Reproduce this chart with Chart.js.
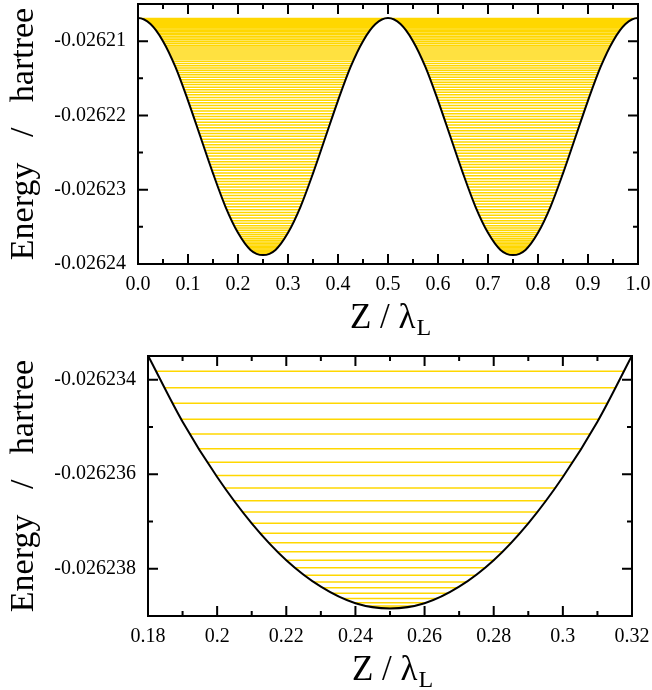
<!DOCTYPE html>
<html>
<head>
<meta charset="utf-8">
<script src="https://cdn.jsdelivr.net/npm/chart.js@4.4.1/dist/chart.umd.min.js"></script>
<style>
  html, body { margin: 0; padding: 0; background: #fff; }
  #wrap { width: 652px; height: 690px; }
  canvas { display: block; }
</style>
</head>
<body>
<div id="wrap">
  <canvas id="full" width="652" height="345"></canvas>
  <canvas id="zoom" width="652" height="345"></canvas>
</div>
<script>
// ---- Potential over one full lattice period (Z / lambda_L) ----
const fullZ = [-0.025, 0, 0.025, 0.05, 0.075, 0.1, 0.125, 0.15, 0.175, 0.2, 0.225, 0.25,
  0.275, 0.3, 0.325, 0.35, 0.375, 0.4, 0.425, 0.45, 0.475, 0.5,
  0.525, 0.55, 0.575, 0.6, 0.625, 0.65, 0.675, 0.7, 0.725, 0.75,
  0.775, 0.8, 0.825, 0.85, 0.875, 0.9, 0.925, 0.95, 0.975, 1.0, 1.025];
const fullE = [-0.0262077, -0.0262069, -0.0262077, -0.0262100, -0.0262135, -0.0262180, -0.0262229, -0.0262278, -0.0262323, -0.0262358, -0.0262381, -0.0262388,
  -0.0262381, -0.0262358, -0.0262323, -0.0262278, -0.0262229, -0.0262180, -0.0262135, -0.0262100, -0.0262077, -0.0262069,
  -0.0262077, -0.0262100, -0.0262135, -0.0262180, -0.0262229, -0.0262278, -0.0262323, -0.0262358, -0.0262381, -0.0262388,
  -0.0262381, -0.0262358, -0.0262323, -0.0262278, -0.0262229, -0.0262180, -0.0262135, -0.0262100, -0.0262077, -0.0262069, -0.0262077];

// ---- Potential near the bottom of one well ----
const zoomZ = [0.18, 0.19, 0.20, 0.21, 0.22, 0.23, 0.24, 0.25, 0.26, 0.27, 0.28, 0.29, 0.30, 0.31, 0.32];
const zoomE = [-0.02623349, -0.02623489, -0.02623606, -0.02623704, -0.02623782, -0.02623838, -0.02623873, -0.02623884,
  -0.02623873, -0.02623838, -0.02623782, -0.02623704, -0.02623606, -0.02623489, -0.02623349];

// ---- Energy levels (hartree) ----
// levels above the window of the lower panel
const upperLevels = [
  -0.02620694, -0.02620699, -0.02620705, -0.02620712, -0.02620720, -0.02620729, -0.02620739, -0.02620750,
  -0.02620762, -0.02620775, -0.02620789, -0.02620804, -0.02620820, -0.02620837, -0.02620855, -0.02620874,
  -0.02620894, -0.02620915, -0.02620937, -0.02620959, -0.02620982, -0.02621006, -0.02621030, -0.02621055,
  -0.02621080, -0.02621106, -0.02621132, -0.02621159, -0.02621186, -0.02621214, -0.02621242, -0.02621271,
  -0.02621300, -0.02621330, -0.02621360, -0.02621391, -0.02621422, -0.02621454, -0.02621486, -0.02621519,
  -0.02621552, -0.02621585, -0.02621619, -0.02621653, -0.02621688, -0.02621723, -0.02621758, -0.02621794,
  -0.02621830, -0.02621866, -0.02621903, -0.02621940, -0.02621977, -0.02622015, -0.02622053, -0.02622091,
  -0.02622129, -0.02622167, -0.02622205, -0.02622243, -0.02622281, -0.02622319, -0.02622357, -0.02622395,
  -0.02622433, -0.02622471, -0.02622509, -0.02622547, -0.02622585, -0.02622623, -0.02622661, -0.02622699,
  -0.02622737, -0.02622775, -0.02622813, -0.02622851, -0.02622889, -0.02622927, -0.02622965, -0.02623003,
  -0.02623041, -0.02623079, -0.02623117, -0.02623155, -0.02623193, -0.02623231, -0.02623269, -0.02623307,
  -0.02623345];
// levels inside the window of the lower panel
const lowerLevels = [
  -0.02623382, -0.02623417, -0.02623450, -0.02623484, -0.02623515, -0.02623546, -0.02623575, -0.02623603,
  -0.02623629, -0.02623656, -0.02623680, -0.02623704, -0.02623725, -0.02623745, -0.02623764, -0.02623782,
  -0.02623798, -0.02623814, -0.02623828, -0.02623840, -0.02623852, -0.02623863, -0.02623872, -0.02623879,
  -0.02623882];

// ---- Axis ticks ----
const fullXTicks = [0, 0.1, 0.2, 0.3, 0.4, 0.5, 0.6, 0.7, 0.8, 0.9, 1.0];
const fullXLabels = ['0.0', '0.1', '0.2', '0.3', '0.4', '0.5', '0.6', '0.7', '0.8', '0.9', '1.0'];
const fullXMinor = [0.05, 0.15, 0.25, 0.35, 0.45, 0.55, 0.65, 0.75, 0.85, 0.95];
const fullYTicks = [-0.02624, -0.02623, -0.02622, -0.02621];
const fullYLabels = ['-0.02624', '-0.02623', '-0.02622', '-0.02621'];
const fullYMinor = [-0.026235, -0.026225, -0.026215];

const zoomXTicks = [0.18, 0.20, 0.22, 0.24, 0.26, 0.28, 0.30, 0.32];
const zoomXLabels = ['0.18', '0.2', '0.22', '0.24', '0.26', '0.28', '0.3', '0.32'];
const zoomXMinor = [0.19, 0.21, 0.23, 0.25, 0.27, 0.29, 0.31];
const zoomYTicks = [-0.026238, -0.026236, -0.026234];
const zoomYLabels = ['-0.026238', '-0.026236', '-0.026234'];
const zoomYMinor = [-0.026237, -0.026235];

const LEVEL_COLOR = '#FFD700';
const SERIF = '"Liberation Serif", "Times New Roman", serif';

// Frame, inward tick marks and axis titles, drawn over the datasets
const axesDecor = {
  id: 'axesDecor',
  afterDatasetsDraw(chart, args, o) {
    const { ctx, chartArea: a, scales: { x, y } } = chart;
    ctx.save();
    ctx.strokeStyle = '#000';
    ctx.lineWidth = 2;
    ctx.lineCap = 'butt';
    ctx.beginPath();
    const xt = (vals, len) => vals.forEach(v => {
      const p = x.getPixelForValue(v);
      ctx.moveTo(p, a.bottom); ctx.lineTo(p, a.bottom - len);
      ctx.moveTo(p, a.top); ctx.lineTo(p, a.top + len);
    });
    const yt = (vals, len) => vals.forEach(v => {
      const p = y.getPixelForValue(v);
      ctx.moveTo(a.left, p); ctx.lineTo(a.left + len, p);
      ctx.moveTo(a.right, p); ctx.lineTo(a.right - len, p);
    });
    xt(o.xMajor, 10); xt(o.xMinor, 5);
    yt(o.yMajor, 10); yt(o.yMinor, 5);
    ctx.stroke();
    ctx.strokeRect(a.left, a.top, a.right - a.left, a.bottom - a.top);

    ctx.fillStyle = '#000';
    // y title
    ctx.save();
    ctx.translate(o.yTitleX, (a.top + a.bottom) / 2);
    ctx.rotate(-Math.PI / 2);
    ctx.font = '34px ' + SERIF;
    ctx.textAlign = 'center';
    ctx.textBaseline = 'alphabetic';
    ctx.fillText('Energy   /   hartree', 0, 0);
    ctx.restore();
    // x title with subscript
    ctx.textAlign = 'left';
    ctx.textBaseline = 'alphabetic';
    ctx.font = '35px ' + SERIF;
    const main = 'Z / \u03BB';
    const wMain = ctx.measureText(main).width;
    ctx.font = '24px ' + SERIF;
    const wSub = ctx.measureText('L').width;
    const x0 = (a.left + a.right) / 2 - (wMain + wSub) / 2 + 2;
    ctx.font = '35px ' + SERIF;
    ctx.fillText(main, x0, o.xTitleY);
    ctx.font = '24px ' + SERIF;
    ctx.fillText('L', x0 + wMain + 1, o.xTitleY + 7);
    ctx.restore();
  }
};

function levelSets(levels, xmin, xmax) {
  return levels.map(e => ({
    data: [{ x: xmin, y: e }, { x: xmax, y: e }],
    borderColor: LEVEL_COLOR,
    borderWidth: 1.5,
    pointRadius: 0,
    fill: false,
    order: 2
  }));
}

function curveSet(zs, es) {
  return {
    data: zs.map((z, i) => ({ x: z, y: es[i] })),
    borderColor: '#000',
    borderWidth: 2,
    pointRadius: 0,
    cubicInterpolationMode: 'monotone',
    fill: 'start',
    backgroundColor: '#fff',
    order: 0
  };
}

function build(id, p) {
  const tickFont = { family: SERIF, size: 20 };
  return new Chart(document.getElementById(id), {
    type: 'line',
    data: { datasets: [curveSet(p.curveZ, p.curveE), ...levelSets(p.levels, p.xmin, p.xmax)] },
    options: {
      responsive: false,
      animation: false,
      devicePixelRatio: 1,
      events: [],
      layout: { padding: { left: 0, top: p.padTop, right: p.padRight, bottom: 0 } },
      plugins: {
        legend: { display: false },
        tooltip: { enabled: false },
        axesDecor: {
          xMajor: p.xTicks, xMinor: p.xMinor, yMajor: p.yTicks, yMinor: p.yMinor,
          yTitleX: 33, xTitleY: p.xTitleY
        }
      },
      scales: {
        x: {
          type: 'linear', min: p.xmin, max: p.xmax,
          grid: { display: false, drawTicks: false },
          border: { display: false },
          ticks: {
            font: tickFont, color: '#000', padding: p.xPad, maxRotation: 0, autoSkip: false,
            callback: (v, i) => p.xLabels[i]
          },
          afterBuildTicks: s => { s.ticks = p.xTicks.map(v => ({ value: v })); },
          afterFit: s => { s.height = p.xHeight; s.paddingLeft = 0; s.paddingRight = 0; }
        },
        y: {
          type: 'linear', min: p.ymin, max: p.ymax,
          grid: { display: false, drawTicks: false },
          border: { display: false },
          ticks: {
            font: tickFont, color: '#000', padding: p.yPad, autoSkip: false,
            callback: (v, i) => p.yLabels[i]
          },
          afterBuildTicks: s => { s.ticks = p.yTicks.map(v => ({ value: v })); },
          afterFit: s => { s.width = p.yWidth; s.paddingTop = 0; s.paddingBottom = 0; }
        }
      }
    },
    plugins: [axesDecor]
  });
}

build('full', {
  curveZ: fullZ, curveE: fullE, levels: upperLevels.concat(lowerLevels),
  xmin: 0, xmax: 1, ymin: -0.02624, ymax: -0.026205,
  xTicks: fullXTicks, xLabels: fullXLabels, xMinor: fullXMinor,
  yTicks: fullYTicks, yLabels: fullYLabels, yMinor: fullYMinor,
  padTop: 4, padRight: 14, yWidth: 138, xHeight: 81, xPad: 9, yPad: 12, xTitleY: 328
});

build('zoom', {
  curveZ: zoomZ, curveE: zoomE, levels: lowerLevels,
  xmin: 0.18, xmax: 0.32, ymin: -0.026239, ymax: -0.0262335,
  xTicks: zoomXTicks, xLabels: zoomXLabels, xMinor: zoomXMinor,
  yTicks: zoomYTicks, yLabels: zoomYLabels, yMinor: zoomYMinor,
  padTop: 11, padRight: 20, yWidth: 148, xHeight: 74, xPad: 9, yPad: 12, xTitleY: 335
});
</script>
</body>
</html>
